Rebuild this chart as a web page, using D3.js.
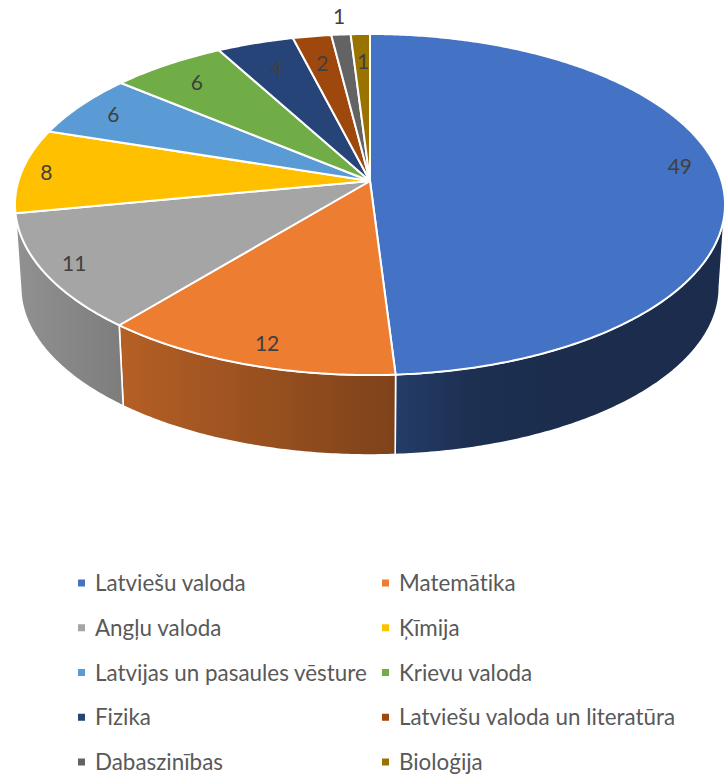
<!DOCTYPE html>
<html><head><meta charset="utf-8">
<script src="https://cdn.jsdelivr.net/npm/d3@7"></script>
<style>html,body{margin:0;padding:0;background:#fff}svg{display:block}text{font-family:Lato,"Open Sans",sans-serif;font-variant-ligatures:none}</style>
</head><body><svg id="c" width="724" height="775"></svg>
<script>
const categories = ["Latviešu valoda","Matemātika","Angļu valoda","Ķīmija","Latvijas un pasaules vēsture","Krievu valoda","Fizika","Latviešu valoda un literatūra","Dabaszinības","Bioloģija"];
const values = [49,12,11,8,6,6,4,2,1,1];
const colors = ["#4472C4","#ED7D31","#A5A5A5","#FFC000","#5B9BD5","#70AD47","#264478","#9E480E","#636363","#997300"];
const labelRadial = [.885,.9,.9,.93,.9,.8,.8,.8,1.15,.8];
const labelDx = [0,8,-5,0,5,-8,0,0,2,1];
const labelDy = [-11,-1,0,0,1,-4,-1,0,0,0];
const shadeX = [15,123,396,470,560,725];
const shadeK = [.88,.76,.53,.42,.39,.39];

const svg = d3.select("#c");
const cx = 370, cy = 181, R = 351.6, A = 167.3, persp = .138, depth = 83, lowerK = .984;
function proj(theta, r, lower){
  const u = Math.sin(theta)*r, v = Math.cos(theta)*r, w = 1+persp*v, k = lower ? lowerK : 1;
  return [cx + k*R*u/w, cy + (lower?depth:0) - k*A*v/w];
}
const pie = d3.pie().sort(null)(values);
const line = d3.line().curve(d3.curveLinear);
const arcAngles = (a,b) => { const n = Math.max(2, Math.ceil((b-a)/0.01)); return d3.range(n+1).map(i => a+(b-a)*i/n); };

const defs = svg.append("defs");
const shade = d3.scaleLinear().domain(shadeX).range(shadeK);
const stopX = d3.scaleLinear().domain([15,725]).range([0,100]);
colors.forEach((c,i) => {
  const g = defs.append("linearGradient").attr("id","wall"+i).attr("gradientUnits","userSpaceOnUse")
    .attr("x1",15).attr("x2",725).attr("y1",0).attr("y2",0);
  shadeX.forEach(x => {
    const o = d3.rgb(c), k = shade(x);
    g.append("stop").attr("offset",stopX(x)+"%").attr("stop-color",d3.rgb(o.r*k,o.g*k,o.b*k).formatHex());
  });
});

// side walls: only between the two silhouette tangents
const frontStart = Math.PI/2 + .14, frontEnd = 3*Math.PI/2 - .19;
svg.append("g").selectAll("path").data(pie).join("path")
  .attr("d", d => {
    const a = Math.max(d.startAngle,frontStart), b = Math.min(d.endAngle,frontEnd);
    if (b <= a) return null;
    const t = arcAngles(a,b);
    return line(t.map(x=>proj(x,1,false)).concat(t.slice().reverse().map(x=>proj(x,1,true))))+"Z";
  })
  .attr("fill", d => `url(#wall${d.index})`)
  .attr("stroke","#fff").attr("stroke-width",1.6).attr("stroke-linejoin","round");

// top faces
svg.append("g").selectAll("path").data(pie).join("path")
  .attr("d", d => line([[cx,cy]].concat(arcAngles(d.startAngle,d.endAngle).map(x=>proj(x,1,false))))+"Z")
  .attr("fill", d => colors[d.index])
  .attr("stroke","#fff").attr("stroke-width",2).attr("stroke-linejoin","round");

// value labels
svg.append("g").selectAll("text").data(pie).join("text")
  .each(function(d){
    const p = proj((d.startAngle+d.endAngle)/2, labelRadial[d.index], false);
    d3.select(this).attr("x",p[0]+labelDx[d.index]).attr("y",p[1]+labelDy[d.index]);
  })
  .attr("text-anchor","middle").attr("dominant-baseline","central")
  .attr("font-size",21).attr("fill","#404040").text(d=>d.value);

// legend
const colX = d3.scaleOrdinal().domain([0,1]).range([78,382]);
const rowY = d3.scaleLinear().domain([0,4]).range([583,762]);
const leg = svg.append("g").selectAll("g").data(categories).join("g")
  .attr("transform",(d,i)=>`translate(${colX(i%2)},${rowY(Math.floor(i/2))})`);
leg.append("rect").attr("x",0).attr("y",-3.5).attr("width",7).attr("height",7).attr("fill",(d,i)=>colors[i]);
leg.append("text").attr("x",17).attr("y",-0.5).attr("dominant-baseline","central")
  .attr("font-size",22.4).attr("fill","#595959").text(d=>d);
</script></body></html>
